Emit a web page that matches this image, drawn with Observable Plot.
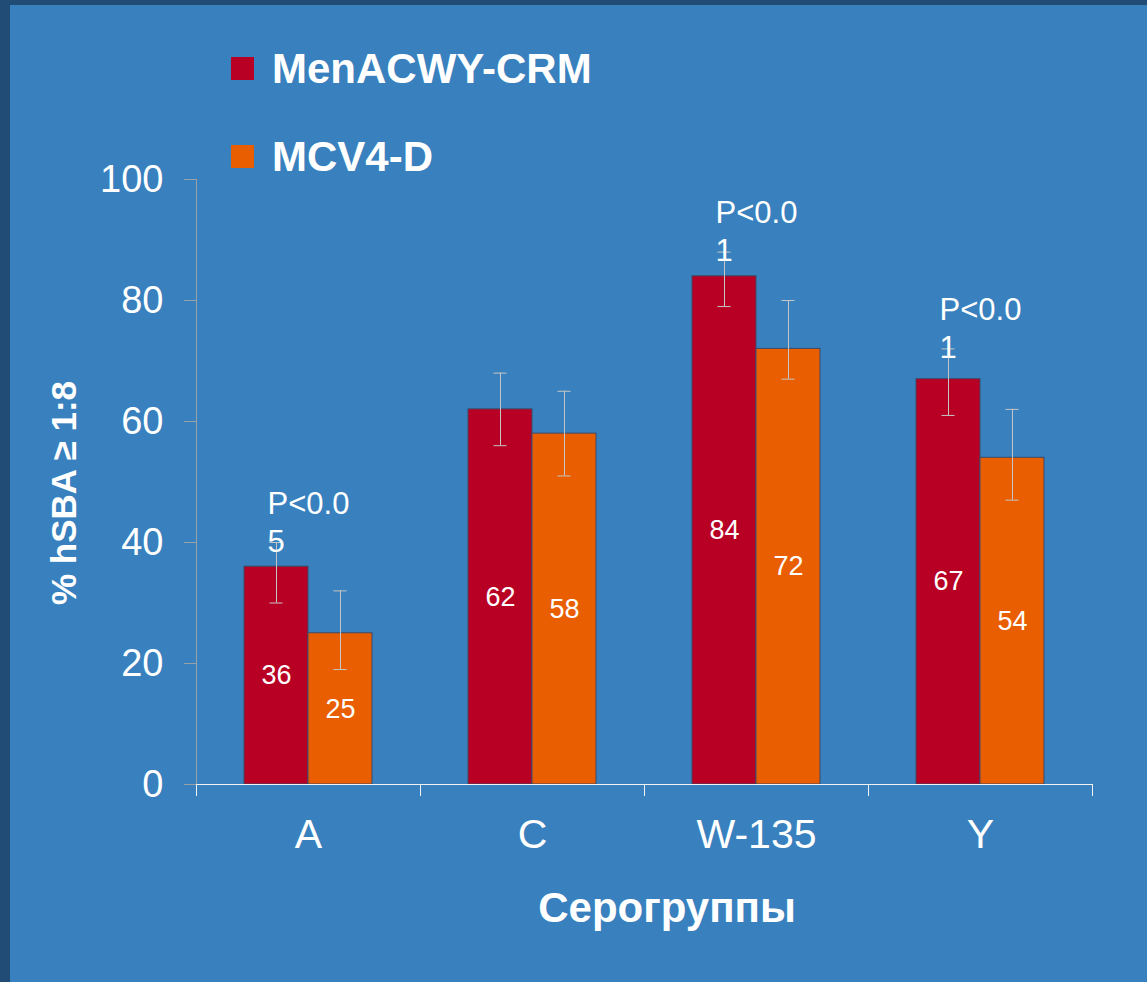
<!DOCTYPE html>
<html>
<head>
<meta charset="utf-8">
<script src="https://cdn.jsdelivr.net/npm/d3@7"></script>
<script src="https://cdn.jsdelivr.net/npm/@observablehq/plot@0.6"></script>
<style>
  html, body { margin: 0; padding: 0; }
  body { width: 1147px; height: 982px; background: #214c75; position: relative; overflow: hidden;
         font-family: "Liberation Sans", Arial, sans-serif; color: #fff; }
  #panel { position: absolute; left: 10px; top: 5px; right: 0; bottom: 0; background: #3881be; }
  #chart { position: absolute; left: 0; top: 0; }
  #chart svg { display: block; }
  .leg { position: absolute; left: 231px; height: 42px; line-height: 42px; font-size: 42px; font-weight: bold; white-space: nowrap; }
  .leg .sw { position: absolute; left: 0; width: 23px; height: 23px; }
  .leg .tx { position: absolute; left: 41px; top: 0; }
  #ytitle { position: absolute; left: 63px; top: 493px; transform: translate(-50%, -50%) rotate(-90deg);
            font-size: 35px; font-weight: bold; white-space: nowrap; line-height: 1; }
  #xtitle { position: absolute; left: 667px; top: 887px; transform: translateX(-50%);
            font-size: 42px; font-weight: bold; white-space: nowrap; line-height: 42px; }
</style>
</head>
<body>
<div id="panel"></div>
<div id="chart"></div>
<div id="legend"></div>
<div id="ytitle">% hSBA ≥ 1:8</div>
<div id="xtitle">Серогруппы</div>
<script>
// ---- data ----
const categories = ["A", "C", "W-135", "Y"];
const series = ["MenACWY-CRM", "MCV4-D"];
const colors = ["#b80024", "#e85e00"];
const crmValues = [36, 62, 84, 67];
const crmLow    = [30, 56, 79, 61];
const crmHigh   = [40, 68, 88, 72];
const mcvValues = [25, 58, 72, 54];
const mcvLow    = [19, 51, 67, 47];
const mcvHigh   = [32, 65, 80, 62];
const pValues   = ["P<0.05", "", "P<0.01", "P<0.01"];
const yTicks    = [0, 20, 40, 60, 80, 100];

// ---- tables built from arrays ----
const rows = categories.flatMap((c, i) => [
  {cat: c, series: series[0], value: crmValues[i], lo: crmLow[i], hi: crmHigh[i]},
  {cat: c, series: series[1], value: mcvValues[i], lo: mcvLow[i], hi: mcvHigh[i]}
]);
const pRows = categories
  .map((c, i) => ({cat: c, series: series[0], hi: crmHigh[i], p: pValues[i]}))
  .filter(d => d.p);

const errColor = "#c6c6c6";

const chart = Plot.plot({
  width: 1147,
  height: 982,
  marginLeft: 195,
  marginRight: 55,
  marginTop: 179,
  marginBottom: 198,
  style: {background: "transparent", color: "#fff", fontFamily: "'Liberation Sans', Arial, sans-serif", overflow: "visible"},
  fx: {domain: categories, paddingInner: 0, paddingOuter: 0, label: null},
  x: {domain: series, paddingInner: 0, paddingOuter: 0.74, axis: null},
  y: {domain: [0, 100], label: null},
  color: {domain: series, range: colors},
  marks: [
    Plot.axisY({ticks: yTicks, tickSize: 12, tickPadding: 21, fontSize: 38, stroke: "#9aa0a8", fill: "#fff", label: null}),
    Plot.axisFx({anchor: "bottom", tickSize: 0, tickPadding: 34, fontSize: 41, fill: "#fff", label: null}),
    Plot.barY(rows, {fx: "cat", x: "series", y: "value", fill: "series", stroke: "#3d4b68", strokeWidth: 1}),
    Plot.ruleX(rows, {fx: "cat", x: "series", y1: "lo", y2: "hi", stroke: errColor, strokeWidth: 1}),
    Plot.tickY(rows, {fx: "cat", x: "series", y: "lo", stroke: errColor, insetLeft: 25.5, insetRight: 25.5}),
    Plot.tickY(rows, {fx: "cat", x: "series", y: "hi", stroke: errColor, insetLeft: 25.5, insetRight: 25.5}),
    Plot.text(rows, {fx: "cat", x: "series", y: d => d.value / 2, text: d => String(d.value), fill: "#fff", fontSize: 27}),
    Plot.text(pRows, {fx: "cat", x: "series", y: "hi",
      text: d => d.p.slice(0, 5) + "\n" + d.p.slice(5),
      textAnchor: "start", lineAnchor: "middle", lineHeight: 1.22, dx: -9, dy: -22, fontSize: 31, fill: "#fff"})
  ]
});
document.getElementById("chart").appendChild(chart);

// ---- axis lines and category boundary ticks from Plot's own scales ----
const fxs = chart.scale("fx");
const ys = chart.scale("y");
const band = d3.scaleBand(fxs.domain, fxs.range)
  .paddingInner(fxs.paddingInner ?? 0)
  .paddingOuter(fxs.paddingOuter ?? 0)
  .align(fxs.align ?? 0.5)
  .round(!!fxs.round);
const yl = d3.scaleLinear(ys.domain, ys.range);
const edges = fxs.domain.map(d => band(d)).concat([band(fxs.domain[fxs.domain.length - 1]) + band.bandwidth()]);
const g = d3.select(chart).append("g").attr("shape-rendering", "crispEdges");
g.append("line").attr("x1", edges[0]).attr("x2", edges[0])
  .attr("y1", yl(yTicks[yTicks.length - 1])).attr("y2", yl(0)).attr("stroke", "#9aa0a8");
g.append("line").attr("x1", edges[0]).attr("x2", edges[edges.length - 1])
  .attr("y1", yl(0)).attr("y2", yl(0)).attr("stroke", "#f2f2f2");
g.selectAll("line.bt").data(edges).join("line").attr("class", "bt")
  .attr("x1", d => d).attr("x2", d => d)
  .attr("y1", yl(0)).attr("y2", yl(0) + 12).attr("stroke", "#f2f2f2");

// ---- legend ----
const legendTops = [48, 136];
const leg = document.getElementById("legend");
series.forEach((s, i) => {
  const item = document.createElement("div");
  item.className = "leg";
  item.style.top = legendTops[i] + "px";
  item.innerHTML = `<span class="sw" style="top:9px;background:${colors[i]}"></span><span class="tx">${s}</span>`;
  leg.appendChild(item);
});
</script>
</body>
</html>
